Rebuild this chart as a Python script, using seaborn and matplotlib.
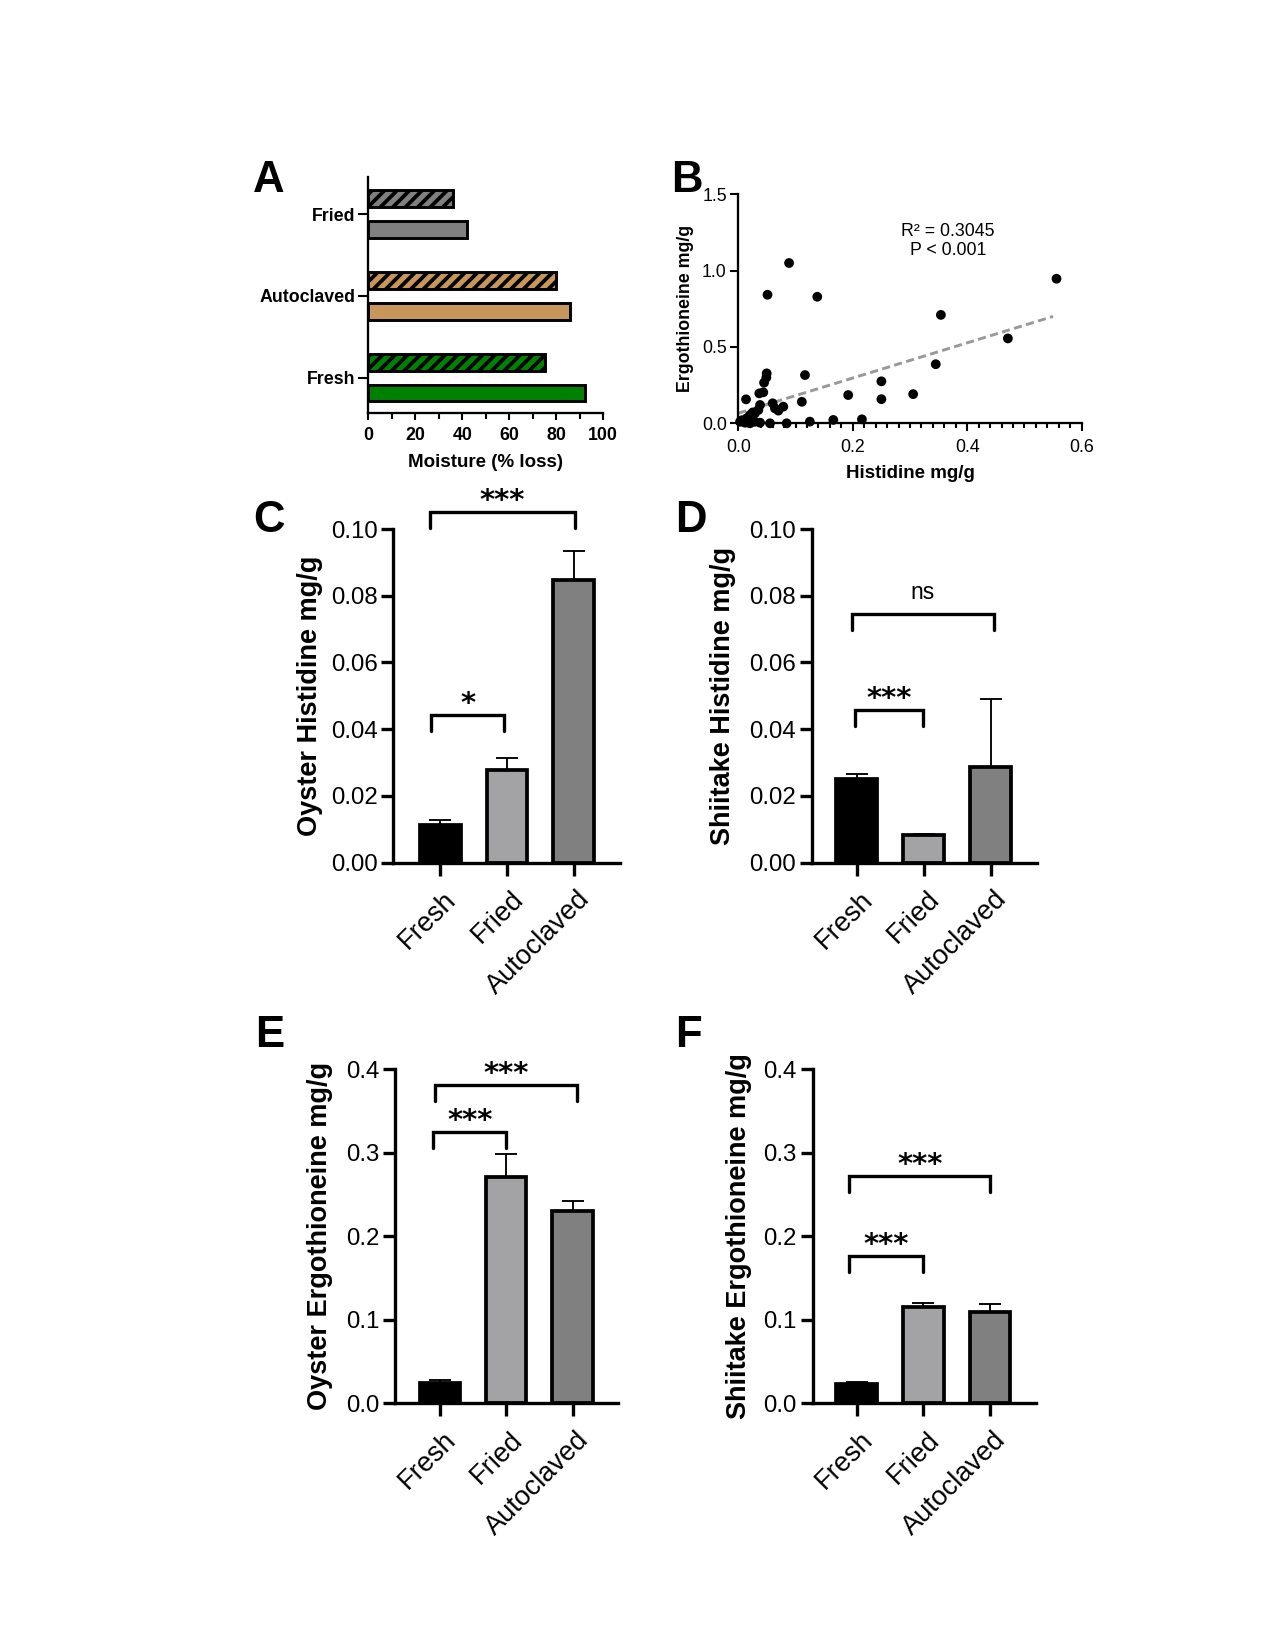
import numpy as np
import pandas as pd
import matplotlib
matplotlib.use("Agg")
import matplotlib.pyplot as plt
import matplotlib.transforms as mtransforms
from matplotlib.ticker import MultipleLocator, FormatStrFormatter
import seaborn as sns

# ---------------- data ----------------
# Panel A: moisture loss (%), two bars per treatment (hatched on top, solid below)
moist_treatments = ["Fried", "Autoclaved", "Fresh"]
moist_hatched = [36, 80, 75]
moist_solid = [42, 86, 92]
moist_colors = ["#808080", "#C8965A", "#008000"]

# Panel B: histidine vs ergothioneine (mg/g)
hist_mg_g = [0.0887, 0.051, 0.138, 0.354, 0.471, 0.556, 0.345, 0.250, 0.250, 0.3055,
             0.192, 0.216, 0.1165, 0.111, 0.0135, 0.0496, 0.049, 0.045, 0.0367, 0.0437,
             0.060, 0.064, 0.0786, 0.070, 0.038, 0.035, 0.029, 0.0204, 0.0146, 0.003,
             0.0117, 0.0204, 0.029, 0.038, 0.0554, 0.0845, 0.125, 0.166, 0.006, 0.025]
ergo_mg_g = [1.05, 0.842, 0.829, 0.71, 0.556, 0.947, 0.387, 0.275, 0.158, 0.191,
             0.185, 0.026, 0.316, 0.141, 0.157, 0.327, 0.300, 0.266, 0.196, 0.203,
             0.131, 0.098, 0.109, 0.083, 0.120, 0.087, 0.065, 0.054, 0.033, 0.010,
             0.004, 0.0, 0.010, 0.004, 0.0, 0.0, 0.011, 0.022, 0.020, 0.070]
fit_x = [0.0, 0.55]
fit_y = [0.066, 0.70]

# Panels C-F: mean and (upper) error
treatments = ["Fresh", "Fried", "Autoclaved"]
bar_colors = ["#000000", "#A2A2A7", "#808080"]
oyster_his = [0.0113, 0.0278, 0.0846]
oyster_his_err = [0.0015, 0.0035, 0.0089]
shiitake_his = [0.0251, 0.0083, 0.0286]
shiitake_his_err = [0.0014, 0.0002, 0.0204]
oyster_erg = [0.024, 0.2707, 0.2295]
oyster_erg_err = [0.004, 0.027, 0.0125]
shiitake_erg = [0.0231, 0.1157, 0.1097]
shiitake_erg_err = [0.0025, 0.004, 0.0093]

# significance brackets: (left, right, height, label)
sig_C = [(-0.155, 2.02, 0.1051, "***"), (-0.13, 0.95, 0.0443, "*")]
sig_D = [(-0.075, 2.05, 0.0746, "ns"), (-0.025, 0.99, 0.0458, "***")]
sig_E = [(-0.065, 2.07, 0.381, "***"), (-0.10, 1.00, 0.325, "***")]
sig_F = [(-0.11, 2.00, 0.272, "***"), (-0.11, 0.99, 0.1764, "***")]

# ---------------- style ----------------
sns.set_theme(style="ticks")
plt.rcParams["font.family"] = ["Liberation Sans", "DejaVu Sans"]
plt.rcParams["hatch.linewidth"] = 1.8
plt.rcParams["axes.facecolor"] = "white"
for key in ["text.color", "axes.labelcolor", "xtick.color", "ytick.color",
            "axes.edgecolor"]:
    plt.rcParams[key] = "black"

W, H = 1275, 1650
fig = plt.figure(figsize=(8.5, 11), dpi=150)


def px_axes(left, right, top, bottom):
    return fig.add_axes([left / W, 1 - bottom / H, (right - left) / W, (bottom - top) / H])


# ---------------- panel A ----------------
axA = px_axes(368.3, 603.3, 176.7, 413.3)
dfA = pd.DataFrame({
    "treatment": moist_treatments * 2,
    "set": ["hatched"] * 3 + ["solid"] * 3,
    "loss": moist_hatched + moist_solid,
})
sns.barplot(data=dfA, x="loss", y="treatment", hue="set", order=moist_treatments,
            hue_order=["hatched", "solid"], orient="h", width=0.75, gap=0.45,
            errorbar=None, legend=False, edgecolor="black", linewidth=1.4, ax=axA)
for cont, hatch in zip(axA.containers, ["////", None]):
    for bar in cont:
        idx = int(round(bar.get_y() + bar.get_height() / 2))
        bar.set_facecolor(moist_colors[idx])
        bar.set_hatch(hatch)
axA.set_xlim(0, 100)
axA.set_ylim(2.436, -0.457)
axA.xaxis.set_major_locator(MultipleLocator(20))
axA.xaxis.set_minor_locator(MultipleLocator(10))
axA.tick_params(axis="x", which="major", length=3.5, width=1, labelsize=8.5, pad=3)
axA.tick_params(axis="x", which="minor", length=3, width=1)
axA.tick_params(axis="y", length=4.8, width=1, labelsize=8.5, pad=1.5)
for lab in axA.get_xticklabels() + axA.get_yticklabels():
    lab.set_fontweight("bold")
axA.set_ylabel("")
axA.set_xlabel("Moisture (% loss)", fontsize=9, fontweight="bold")
axA.xaxis.set_label_coords(0.5, -0.172)
sns.despine(ax=axA)
for s in ["left", "bottom"]:
    axA.spines[s].set_linewidth(1.1)

# ---------------- panel B ----------------
axB = px_axes(738.3, 1081.7, 194.3, 423.3)
sns.scatterplot(x=hist_mg_g, y=ergo_mg_g, color="black", s=22, edgecolor="none",
                clip_on=False, zorder=3, ax=axB)
axB.plot(fit_x, fit_y, color="#999999", lw=1.4, dashes=(2.8, 1.5), zorder=2)
axB.set_xlim(0, 0.6)
axB.set_ylim(0, 1.5)
axB.xaxis.set_major_locator(MultipleLocator(0.2))
axB.xaxis.set_minor_locator(MultipleLocator(0.02))
axB.yaxis.set_major_locator(MultipleLocator(0.5))
axB.xaxis.set_major_formatter(FormatStrFormatter("%.1f"))
axB.yaxis.set_major_formatter(FormatStrFormatter("%.1f"))
axB.tick_params(which="major", length=4, width=1, labelsize=8.5)
axB.tick_params(axis="y", pad=1.5)
axB.tick_params(which="minor", length=2.2, width=1)
axB.set_xlabel("Histidine mg/g", fontsize=9, fontweight="bold")
axB.set_ylabel("Ergothioneine mg/g", fontsize=8.5, fontweight="bold")
axB.xaxis.set_label_coords(0.5, -0.18)
axB.yaxis.set_label_coords(-0.128, 0.5)
axB.text(0.366, 1.195, "R² = 0.3045\nP < 0.001", ha="center", va="center",
         multialignment="center", fontsize=8.5, linespacing=1.1)
sns.despine(ax=axB)
for s in ["left", "bottom"]:
    axB.spines[s].set_linewidth(1.1)


# ---------------- panels C-F ----------------
def bar_panel(ax, values, errs, sig, ymax, step, fmt, ylabel, xleft, label_x):
    df = pd.DataFrame({"treatment": treatments, "value": values})
    sns.barplot(data=df, x="treatment", y="value", hue="treatment", order=treatments,
                hue_order=treatments, palette=bar_colors, legend=False, width=0.61,
                edgecolor="black", linewidth=1.8, errorbar=None, ax=ax, zorder=2)
    ax.errorbar(range(len(values)), values, yerr=[np.zeros(len(values)), errs],
                fmt="none", ecolor="black", elinewidth=0.9, capsize=5.4, capthick=0.9,
                zorder=1)
    ax.set_xlim(xleft, 2.69)
    ax.set_ylim(0, ymax)
    ax.yaxis.set_major_locator(MultipleLocator(step))
    ax.yaxis.set_major_formatter(FormatStrFormatter(fmt))
    ax.tick_params(axis="y", length=5.6, width=1.6, labelsize=11.5, pad=2)
    ax.tick_params(axis="x", length=6.3, width=1.6, labelsize=13, pad=5)
    ax.set_xticks(range(len(treatments)))
    ax.set_xticklabels(treatments, rotation=45, ha="right", va="top",
                       rotation_mode="anchor")
    shift = mtransforms.ScaledTranslation(1.5 / 72, 0, fig.dpi_scale_trans)
    for lab in ax.get_xticklabels():
        lab.set_transform(lab.get_transform() + shift)
    ax.set_xlabel("")
    ax.set_ylabel(ylabel, fontsize=13, fontweight="bold")
    ax.yaxis.set_label_coords(label_x, 0.5)
    sns.despine(ax=ax)
    for s in ["left", "bottom"]:
        ax.spines[s].set_linewidth(1.6)
    leg = 0.048 * ymax
    for x1, x2, y, text in sig:
        ax.plot([x1, x1, x2, x2], [y - leg, y, y, y - leg], color="black", lw=1.6,
                clip_on=False, solid_joinstyle="miter")
        if text == "ns":
            ax.annotate(text, xy=((x1 + x2) / 2, y), xytext=(0, 7),
                        textcoords="offset points", ha="center", va="baseline",
                        fontsize=11, annotation_clip=False)
        else:
            ax.annotate(text, xy=((x1 + x2) / 2, y), xytext=(0, 1.5),
                        textcoords="offset points", ha="center", va="baseline",
                        fontsize=14, family="DejaVu Sans", fontweight="bold",
                        annotation_clip=False)


axC = px_axes(393.3, 620.0, 529.0, 862.7)
bar_panel(axC, oyster_his, oyster_his_err, sig_C, 0.10, 0.02, "%.2f",
          "Oyster Histidine mg/g", -0.70, -0.31)
axD = px_axes(811.7, 1036.7, 529.0, 862.7)
bar_panel(axD, shiitake_his, shiitake_his_err, sig_D, 0.10, 0.02, "%.2f",
          "Shiitake Histidine mg/g", -0.675, -0.336)
axE = px_axes(395.0, 618.3, 1069.0, 1403.3)
bar_panel(axE, oyster_erg, oyster_erg_err, sig_E, 0.4, 0.1, "%.1f",
          "Oyster Ergothioneine mg/g", -0.675, -0.278)
axF = px_axes(812.7, 1036.0, 1069.0, 1403.3)
bar_panel(axF, shiitake_erg, shiitake_erg_err, sig_F, 0.4, 0.1, "%.1f",
          "Shiitake Ergothioneine mg/g", -0.66, -0.272)

# panel letters
for letter, x, y in [("A", 253, 191.7), ("B", 671, 191.7), ("C", 253, 532),
                     ("D", 675, 531.7), ("E", 255, 1046.7), ("F", 675, 1046.7)]:
    fig.text(x / W, 1 - y / H, letter, fontsize=21, fontweight="bold",
             ha="left", va="baseline")

fig.savefig("out.png", dpi=150)
